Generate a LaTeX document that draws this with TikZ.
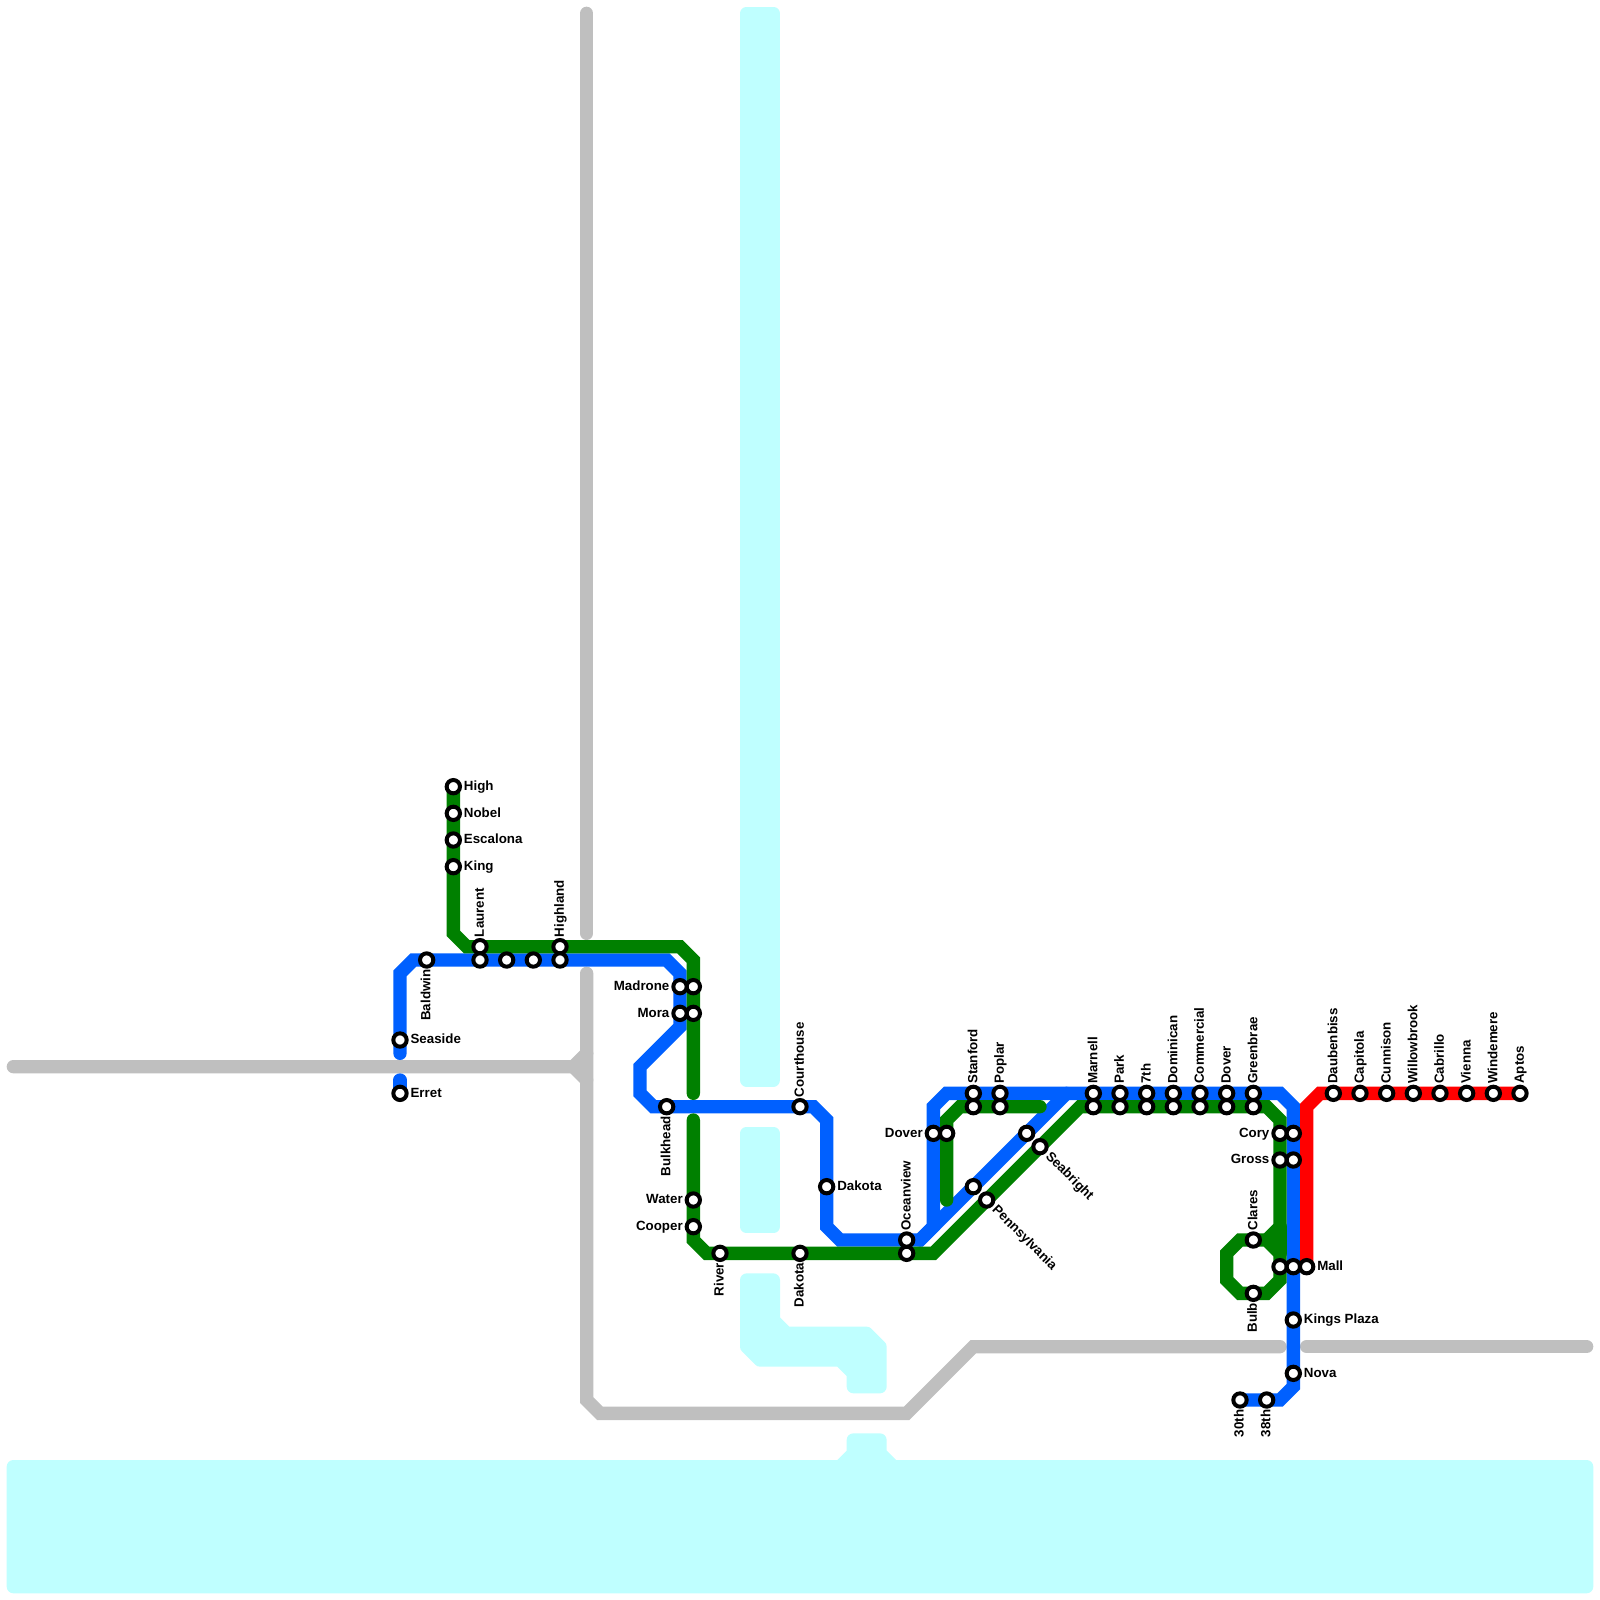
\documentclass[tikz,border=0pt]{standalone}
\usepackage{fontspec}
\setmainfont{Liberation Sans}
\usetikzlibrary{backgrounds}
\definecolor{bluel}{HTML}{0060FF}
\definecolor{greenl}{HTML}{008000}
\definecolor{redl}{HTML}{FF0000}
\definecolor{landl}{HTML}{BFBFBF}
\definecolor{waterl}{HTML}{BFFFFF}
\tikzset{
  route/.style={line width=1mm,line cap=round,miter limit=4},
  blueroute/.style={route,draw=bluel},
  greenroute/.style={route,draw=greenl},
  redroute/.style={route,draw=redl},
  road/.style={route,draw=landl},
  water/.style={draw=waterl,fill=waterl,line width=1mm,line join=round},
  stn/.style={circle,draw=black,fill=white,line width=0.3mm,inner sep=0pt,minimum size=1mm},
  lbl/.style={inner sep=0pt,text height=2.1pt,text depth=0pt,font=\bfseries\fontsize{2.845}{3}\selectfont},
  stnr/.style={stn,label={[lbl,label distance=0.075mm,yshift=0.08mm,anchor=west]0:#1}},
  stnl/.style={stn,label={[lbl,label distance=0.075mm,yshift=0.08mm,anchor=east]180:#1}},
  stnu/.style={stn,label={[lbl,label distance=0.22mm,xshift=0.15mm,rotate=90,anchor=west]90:#1}},
  stnd/.style={stn,label={[lbl,label distance=0.26mm,xshift=-0.36mm,rotate=90,anchor=east]-90:#1}},
  stnx/.style={stn,label={[lbl,label distance=0.15mm,xshift=0.13mm,yshift=0.13mm,rotate=-45,anchor=west]-45:#1}},
}
\begin{document}
\begin{tikzpicture}[x=1mm,y=-1mm]
\useasboundingbox (0,0) rectangle (120,120);
% green line stations
\node[stnr=High](high) at (34,59){};
\node[stnr=Nobel](nobel) at (34,61){};
\node[stnr=Escalona](escalona) at (34,63){};
\node[stnr=King](king) at (34,65){};
\node[stnu=Laurent](laurent) at (36,71){};
\node[stnu=Highland](highland) at (42,71){};
\node[stn](madroneg) at (52,74){};
\node[stn](morag) at (52,76){};
\node[stnl=Water](waterst) at (52,90){};
\node[stnl=Cooper](cooper) at (52,92){};
\node[stnd=River](river) at (54,94){};
\node[stnd=Dakota](dakotag) at (60,94){};
\node[stn](oceang) at (68,94){};
\node[stnx=Pennsylvania](penn) at (74,90){};
\node[stnx=Seabright](seabright) at (78,86){};
\node[stn](doverw) at (71,85){};
\node[stn](stanfordg) at (73,83){};
\node[stn](poplarg) at (75,83){};
\node[stn](marnellg) at (82,83){};
\node[stn](parkg) at (84,83){};
\node[stn](seventhg) at (86,83){};
\node[stn](dominicang) at (88,83){};
\node[stn](commercialg) at (90,83){};
\node[stn](doverg) at (92,83){};
\node[stn](greenbraeg) at (94,83){};
\node[stnl=Cory](cory) at (96,85){};
\node[stnl=Gross](gross) at (96,87){};
\node[stnu=Clares](clares) at (94,93){};
\node[stnd=Bulb](bulb) at (94,97){};
\node[stn](mallg) at (96,95){};
% blue line stations
\node[stnr=Erret](erret) at (30,82){};
\node[stnr=Seaside](seaside) at (30,78){};
\node[stnd=Baldwin](baldwin) at (32,72){};
\node[stn](laurentb) at (36,72){};
\node[stn](block) at (38,72){};
\node[stn](blockb) at (40,72){};
\node[stn](highlandb) at (42,72){};
\node[stnl=Madrone](madrone) at (51,74){};
\node[stnl=Mora](mora) at (51,76){};
\node[stnd=Bulkhead](bulkhead) at (50,83){};
\node[stnu=Courthouse](courthouse) at (60,83){};
\node[stnr=Dakota](dakota) at (62,89){};
\node[stnu=Oceanview](oceanview) at (68,93){};
\node[stnl=Dover](dover) at (70,85){};
\node[stn](diaga) at (73,89){};
\node[stn](diagb) at (77,85){};
\node[stnu=Stanford](stanford) at (73,82){};
\node[stnu=Poplar](poplar) at (75,82){};
\node[stnu=Marnell](marnell) at (82,82){};
\node[stnu=Park](park) at (84,82){};
\node[stnu=7th](seventh) at (86,82){};
\node[stnu=Dominican](dominican) at (88,82){};
\node[stnu=Commercial](commercial) at (90,82){};
\node[stnu=Dover](doverb) at (92,82){};
\node[stnu=Greenbrae](greenbrae) at (94,82){};
\node[stn](coryb) at (97,85){};
\node[stn](grossb) at (97,87){};
\node[stn](mallb) at (97,95){};
\node[stnr=Kings Plaza](kings) at (97,99){};
\node[stnr=Nova](nova) at (97,103){};
\node[stnd=38th](thirtyeight) at (95,105){};
\node[stnd=30th](thirty) at (93,105){};
% red line stations
\node[stnr=Mall](mall) at (98,95){};
\node[stnu=Daubenbiss](daubenbiss) at (100,82){};
\node[stnu=Capitola](capitola) at (102,82){};
\node[stnu=Cunnison](cunnison) at (104,82){};
\node[stnu=Willowbrook](willowbrook) at (106,82){};
\node[stnu=Cabrillo](cabrillo) at (108,82){};
\node[stnu=Vienna](vienna) at (110,82){};
\node[stnu=Windemere](windemere) at (112,82){};
\node[stnu=Aptos](aptos) at (114,82){};
% bends
\coordinate(ba) at (30,81);
\coordinate(bb) at (30,79);
\coordinate(bc) at (30,73);
\coordinate(bd) at (31,72);
\coordinate(be) at (50,72);
\coordinate(bf) at (51,73);
\coordinate(bg) at (51,77);
\coordinate(bh) at (48,80);
\coordinate(bi) at (48,82);
\coordinate(bj) at (49,83);
\coordinate(bk) at (61,83);
\coordinate(bl) at (62,84);
\coordinate(bm) at (62,92);
\coordinate(bn) at (63,93);
\coordinate(bo) at (69,93);
\coordinate(bp) at (70,92);
\coordinate(bq) at (70,83);
\coordinate(br) at (71,82);
\coordinate(bs) at (80,82);
\coordinate(bt) at (96,82);
\coordinate(bu) at (97,83);
\coordinate(bv) at (97,104);
\coordinate(bw) at (96,105);
\coordinate(ga) at (34,70);
\coordinate(gb) at (35,71);
\coordinate(gc) at (51,71);
\coordinate(gd) at (52,72);
\coordinate(ge) at (52,82);
\coordinate(gf) at (52,84);
\coordinate(gg) at (52,93);
\coordinate(gh) at (53,94);
\coordinate(gi) at (70,94);
\coordinate(gj) at (81,83);
\coordinate(gk) at (95,83);
\coordinate(gl) at (96,84);
\coordinate(gm) at (96,96);
\coordinate(gn) at (95,97);
\coordinate(go) at (93,97);
\coordinate(gp) at (92,96);
\coordinate(gq) at (92,94);
\coordinate(gr) at (93,93);
\coordinate(gs) at (95,93);
\coordinate(gt) at (96,94);
\coordinate(gu) at (96,92);
\coordinate(gv) at (71,90);
\coordinate(gw) at (71,84);
\coordinate(gx) at (72,83);
\coordinate(gy) at (78,83);
\coordinate(ra) at (98,83);
\coordinate(rb) at (99,82);
% land
\coordinate(la) at (44,1);
\coordinate(lb) at (44,70);
\coordinate(lc) at (44,73);
\coordinate(ld) at (44,79);
\coordinate(le) at (43,80);
\coordinate(lf) at (1,80);
\coordinate(lg) at (44,81);
\coordinate(lh) at (44,105);
\coordinate(li) at (45,106);
\coordinate(lj) at (68,106);
\coordinate(lk) at (73,101);
\coordinate(ll) at (96,101);
\coordinate(lm) at (98,101);
\coordinate(ln) at (119,101);
\begin{pgfonlayer}{background}
\filldraw[water] (56,1)--(58,1)--(58,81)--(56,81)--cycle;
\filldraw[water] (56,85)--(58,85)--(58,92)--(56,92)--cycle;
\filldraw[water] (56,96)--(58,96)--(58,99)--(59,100)--(65,100)--(66,101)--(66,104)--(64,104)--(64,103)--(63,102)--(57,102)--(56,101)--cycle;
\filldraw[water] (1,110)--(63,110)--(64,109)--(64,108)--(66,108)--(66,109)--(67,110)--(119,110)--(119,119)--(1,119)--cycle;
\draw[road] (la)--(lb);
\draw[road] (lc)--(lh)--(li)--(lj)--(lk)--(ll);
\draw[road] (ld)--(le)--(lf);
\draw[road] (lg)--(le);
\draw[road] (lm)--(ln);
\draw[blueroute] (ba)--(erret.center);
\draw[blueroute] (bb)--(seaside.center)--(bc)--(bd)--(baldwin.center)--(laurentb.center)--(block.center)--(blockb.center)--(highlandb.center)--(be)--(bf)--(madrone.center)--(mora.center)--(bg)--(bh)--(bi)--(bj)--(bulkhead.center)--(courthouse.center)--(bk)--(bl)--(dakota.center)--(bm)--(bn)--(oceanview.center)--(bo)--(diaga.center)--(diagb.center)--(bs);
\draw[blueroute] (bo)--(bp)--(dover.center)--(bq)--(br)--(stanford.center)--(poplar.center)--(bs)--(marnell.center)--(park.center)--(seventh.center)--(dominican.center)--(commercial.center)--(doverb.center)--(greenbrae.center)--(bt)--(bu)--(coryb.center)--(grossb.center)--(mallb.center)--(kings.center)--(nova.center)--(bv)--(bw)--(thirtyeight.center)--(thirty.center);
\draw[redroute] (mall.center)--(ra)--(rb)--(daubenbiss.center)--(capitola.center)--(cunnison.center)--(willowbrook.center)--(cabrillo.center)--(vienna.center)--(windemere.center)--(aptos.center);
\draw[greenroute] (high.center)--(nobel.center)--(escalona.center)--(king.center)--(ga)--(gb)--(laurent.center)--(highland.center)--(gc)--(gd)--(madroneg.center)--(morag.center)--(ge);
\draw[greenroute] (gf)--(waterst.center)--(cooper.center)--(gg)--(gh)--(river.center)--(dakotag.center)--(oceang.center)--(gi)--(penn.center)--(seabright.center)--(gj)--(marnellg.center)--(parkg.center)--(seventhg.center)--(dominicang.center)--(commercialg.center)--(doverg.center)--(greenbraeg.center)--(gk)--(gl)--(cory.center)--(gross.center)--(gu)--(gs);
\draw[greenroute] (gv)--(doverw.center)--(gw)--(gx)--(stanfordg.center)--(poplarg.center)--(gy);
\draw[greenroute] (gs)--(gt)--(mallg.center)--(gm)--(gn)--(bulb.center)--(go)--(gp)--(gq)--(gr)--(clares.center)--(gs);
\draw[greenroute] (gu)--(gt);
\end{pgfonlayer}
\end{tikzpicture}
\end{document}
